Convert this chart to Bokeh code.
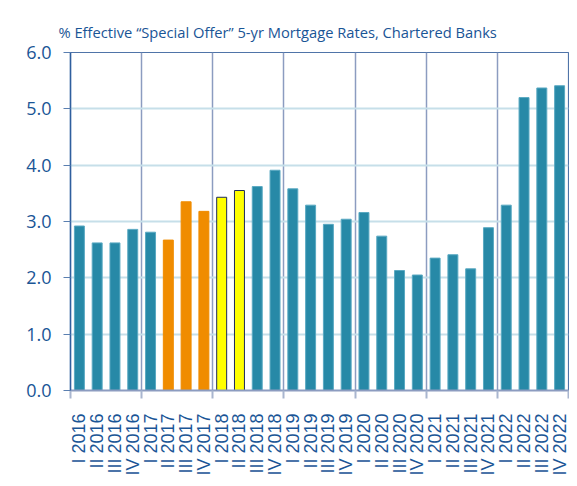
import math
from bokeh.plotting import figure
from bokeh.models import FixedTicker, NumeralTickFormatter, Range1d, ColumnDataSource
from bokeh.embed import file_html
from bokeh.resources import INLINE

quarters = ["I", "II", "III", "IV"]
years = [2016, 2017, 2018, 2019, 2020, 2021, 2022]
labels = [f"{q} {y}" for y in years for q in quarters]
rates = [2.92, 2.62, 2.62, 2.86, 2.81, 2.67, 3.35, 3.18, 3.43, 3.55, 3.62, 3.91, 3.58, 3.29,
         2.95, 3.04, 3.16, 2.74, 2.13, 2.05, 2.35, 2.41, 2.16, 2.89, 3.29, 5.20, 5.37, 5.41]
group = ["base"] * 5 + ["orange"] * 3 + ["yellow"] * 2 + ["base"] * 18

fill_map = {"base": "#2789a7", "orange": "#f08c00", "yellow": "#ffff00"}
line_map = {"base": "#5aa9c2", "orange": "#f08c00", "yellow": "#1d2a5c"}

n = len(labels)
xs = [i + 0.5 for i in range(n)]
src = ColumnDataSource(dict(x=xs, top=rates, label=labels,
                            fill=[fill_map[g] for g in group],
                            line=[line_map[g] for g in group]))

TXT = "#1a5596"

p = figure(width=569, height=478, output_backend="svg", toolbar_location=None,
           x_range=Range1d(0, n), y_range=Range1d(0, 6),
           min_border_left=70, min_border_right=1, min_border_top=52, min_border_bottom=85,
           title="% Effective \u201cSpecial Offer\u201d 5-yr Mortgage Rates, Chartered Banks")

p.vbar(x="x", top="top", width=0.56, source=src, fill_color="fill", line_color="line",
       line_width=1)

p.title.text_font = "Open Sans"
p.title.text_font_size = "14.7px"
p.title.text_font_style = "normal"
p.title.text_color = TXT
p.title.offset = -12
p.title.standoff = 22

boundaries = [i * 4 for i in range(len(years) + 1)]
p.xaxis.ticker = FixedTicker(ticks=xs, minor_ticks=boundaries)
p.xaxis.major_label_overrides = {x: l for x, l in zip(xs, labels)}
p.xaxis.major_label_orientation = math.pi / 2
p.xaxis.major_label_text_font = "Liberation Sans"
p.xaxis.major_label_text_font_size = "18px"
p.xaxis.major_label_text_color = TXT
p.xaxis.major_tick_line_color = None
p.xaxis.major_tick_out = 0
p.xaxis.minor_tick_line_color = "#a9b6cf"
p.xaxis.minor_tick_line_width = 2
p.xaxis.minor_tick_out = 8
p.xaxis.minor_tick_in = 0
p.xaxis.major_label_standoff = 15
p.xaxis.axis_line_color = "#8c9cc0"
p.xaxis.axis_line_width = 2

p.yaxis.ticker = FixedTicker(ticks=[0, 1, 2, 3, 4, 5, 6])
p.yaxis.formatter = NumeralTickFormatter(format="0.0")
p.yaxis.major_label_text_font = "Open Sans"
p.yaxis.major_label_text_font_size = "18px"
p.yaxis.major_label_text_color = TXT
p.yaxis.major_tick_line_color = "#5a7fb0"
p.yaxis.major_tick_out = 7
p.yaxis.major_tick_in = 0
p.yaxis.minor_tick_line_color = None
p.yaxis.axis_line_color = "#2f5f9e"
p.yaxis.axis_line_width = 1.5
p.yaxis.major_label_standoff = 12

p.xgrid.grid_line_color = None
p.xgrid.minor_grid_line_color = "#8c9cc0"
p.xgrid.minor_grid_line_width = 1.5
p.ygrid.grid_line_color = "#c6dfe9"
p.ygrid.grid_line_width = 2

p.outline_line_color = "#4f74a8"
p.outline_line_width = 1.2
p.background_fill_color = "white"
p.border_fill_color = "white"

open("out.html", "w").write(file_html(p, INLINE))
